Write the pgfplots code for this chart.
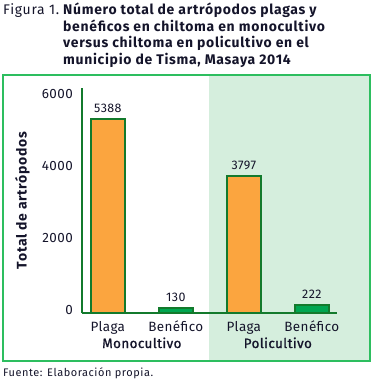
\documentclass[border=0pt]{standalone}
\usepackage{fontspec}
\setmainfont{Fira Sans}
\usepackage{pgfplots}
\pgfplotsset{compat=1.18}
\definecolor{orangefill}{HTML}{FBA53F}
\definecolor{darkgreen}{HTML}{137A2C}
\definecolor{greenfill}{HTML}{00A651}
\definecolor{bgshade}{HTML}{D5EEDD}
\definecolor{border}{HTML}{2DBE5F}
\definecolor{txt}{HTML}{14142A}
\newcommand\ttl{\fontsize{14}{16.5}\selectfont\bfseries\addfontfeature{LetterSpace=5}}
\newcommand\lab[1]{\fontsize{#1}{#1}\selectfont\addfontfeature{LetterSpace=3}}
\begin{document}
\begin{tikzpicture}
\path (0bp,0bp) rectangle (373bp,382bp);
\fill[bgshade] (209bp,21bp) rectangle (370bp,306bp);
\draw[border, line width=2bp] (3bp,21bp) rectangle (370bp,307bp);
\node[anchor=base west, inner sep=0pt, text=txt, font={\fontsize{14}{16.5}\selectfont\addfontfeature{LetterSpace=5}}] at (3bp,367bp) {Figura 1.};
\node[anchor=base west, inner sep=0pt, text=txt, font=\ttl] at (63bp,367bp) {Número total de artrópodos plagas y};
\node[anchor=base west, inner sep=0pt, text=txt, font=\ttl] at (63bp,350.5bp) {benéficos en chiltoma en monocultivo};
\node[anchor=base west, inner sep=0pt, text=txt, font=\ttl] at (63bp,334bp) {versus chiltoma en policultivo en el};
\node[anchor=base west, inner sep=0pt, text=txt, font=\ttl] at (63bp,317.5bp) {municipio de Tisma, Masaya 2014};
\node[anchor=base west, inner sep=0pt, text=txt, font={\fontsize{11}{12}\selectfont\addfontfeature{LetterSpace=5}}] at (3bp,5.5bp) {Fuente: Elaboración propia.};
\begin{axis}[
  at={(82bp,69bp)}, anchor=south west,
  scale only axis, width=255bp, height=225bp,
  xmin=-0.38, xmax=3.37, ymin=0, ymax=6250,
  axis x line=bottom, axis y line=left,
  axis line style={darkgreen, line width=2bp, -},
  ytick={0,2000,4000,6000},
  xtick={0,1,2,3}, xticklabels={Plaga,Benéfico,Plaga,Benéfico},
  major tick length=0pt,
  /pgf/number format/assume math mode=true,
  /pgf/number format/1000 sep={},
  tick label style={text=txt, inner sep=0pt},
  yticklabel style={font=\lab{13.5}, anchor=base east, yshift=-1.5bp, xshift=-9bp},
  xticklabel style={font=\lab{13.5}, anchor=base, yshift=-18.5bp},
  ylabel={Total de artrópodos},
  ylabel style={font={\fontsize{14}{14}\selectfont\bfseries\addfontfeature{LetterSpace=5}}, text=txt, inner sep=0pt, at={(axis description cs:-0.2176,0.5)}, anchor=base},
  clip=false,
  nodes near coords,
  nodes near coords style={font=\lab{12.5}, text=txt, inner sep=0pt, anchor=base, yshift=6.5bp, /pgf/number format/1000 sep={}, /pgf/number format/assume math mode=true},
]
\addplot[ybar, bar width=34bp, fill=orangefill, draw=darkgreen, line width=1.8bp] coordinates {(0,5388) (2,3797)};
\addplot[ybar, bar width=34bp, fill=greenfill, draw=darkgreen, line width=1.8bp] coordinates {(1,130) (3,222)};
\node[font={\lab{13.5}\addfontfeature{FakeBold=1.2}}, text=txt, anchor=base, inner sep=0pt] at (axis cs:0.5,0) [yshift=-35bp] {Monocultivo};
\node[font={\lab{13.5}\addfontfeature{FakeBold=1.2}}, text=txt, anchor=base, inner sep=0pt] at (axis cs:2.5,0) [yshift=-35bp] {Policultivo};
\end{axis}
\end{tikzpicture}
\end{document}
